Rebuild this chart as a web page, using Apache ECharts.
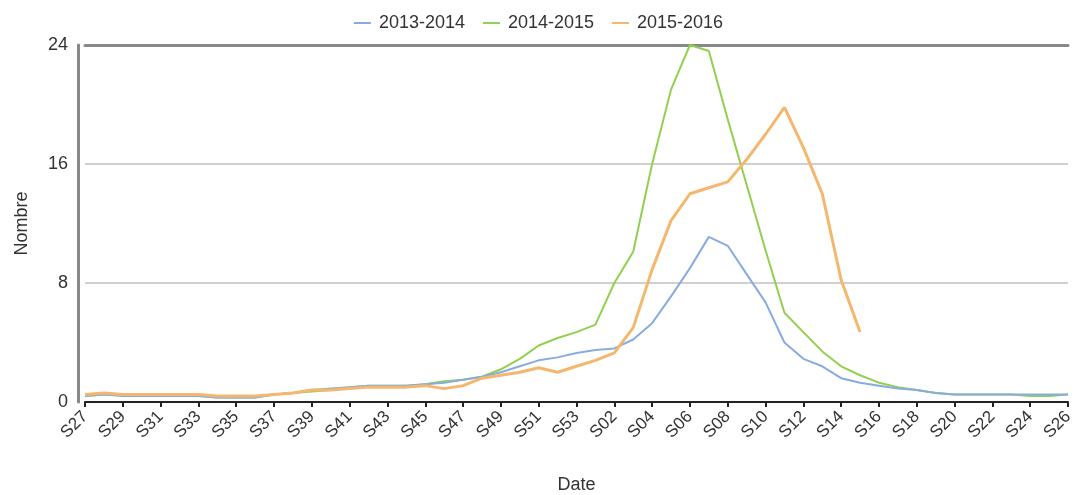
<!DOCTYPE html>
<html>
<head>
<meta charset="utf-8">
<script src="https://cdn.jsdelivr.net/npm/echarts@6/dist/echarts.min.js"></script>
<style>
html,body{margin:0;padding:0;background:#fff;}
#main{width:1077px;height:495px;}
</style>
</head>
<body>
<div id="main"></div>
<script>
var weeks = ['S27','S28','S29','S30','S31','S32','S33','S34','S35','S36','S37','S38','S39','S40','S41','S42','S43','S44','S45','S46','S47','S48','S49','S50','S51','S52','S53',
  'S01','S02','S03','S04','S05','S06','S07','S08','S09','S10','S11','S12','S13','S14','S15','S16','S17','S18','S19','S20','S21','S22','S23','S24','S25','S26'];
var seriesNames = ['2013-2014','2014-2015','2015-2016'];
var s2013 = [0.4,0.5,0.4,0.4,0.4,0.4,0.4,0.3,0.3,0.3, 0.5,0.6,0.8,0.9,1.0,1.1,1.1,1.1,1.2,1.3, 1.5,1.7,2.0,2.4,2.8,3.0,3.3,3.5,3.6,4.2, 5.3,7.1,9.0,11.1,10.5,8.6,6.7,4.0,2.9,2.4, 1.6,1.3,1.1,0.9,0.8,0.6,0.5,0.5,0.5,0.5, 0.5,0.5,0.5];
var s2014 = [0.4,0.5,0.5,0.5,0.4,0.4,0.4,0.3,0.3,0.3, 0.5,0.6,0.7,0.8,1.0,1.1,1.1,1.1,1.2,1.4, 1.5,1.7,2.2,2.9,3.8,4.3,4.7,5.2,8.0,10.1, 16.0,21.0,24.0,23.6,19.0,14.6,10.2,6.0,4.7,3.4, 2.4,1.8,1.3,1.0,0.8,0.6,0.5,0.5,0.5,0.5, 0.4,0.4,0.5];
var s2015 = [0.5,0.6,0.5,0.5,0.5,0.5,0.5,0.4,0.4,0.4, 0.5,0.6,0.8,0.8,0.9,1.0,1.0,1.0,1.1,0.9, 1.1,1.6,1.8,2.0,2.3,2.0,2.4,2.8,3.3,5.0, 8.9,12.2,14.0,14.4,14.8,16.3,18.0,19.8,17.1,14.0, 8.2,4.7];
var yTicks = [0, 8, 16, 24];
var colors = ['#88ace0', '#92d050', '#f5b76e'];

var chart = echarts.init(document.getElementById('main'));
var font = 'Liberation Sans, Arial, sans-serif';
chart.setOption({
  animation: false,
  color: colors,
  textStyle: {fontFamily: font},
  legend: {
    top: 9, left: 'center',
    icon: 'rect', itemWidth: 17, itemHeight: 2, itemGap: 18,
    textStyle: {fontSize: 18, color: '#333', fontFamily: font, padding: [0, 0, 0, 3]},
    data: seriesNames
  },
  grid: {left: 85, right: 9, top: 45, bottom: 93, containLabel: false, outerBoundsMode: 'none'},
  xAxis: [{
    type: 'category', data: weeks, boundaryGap: false,
    name: 'Date', nameLocation: 'middle', nameGap: 74,
    nameTextStyle: {fontSize: 18, color: '#333', fontFamily: font},
    axisLine: {lineStyle: {color: '#222', width: 2}},
    axisTick: {show: true, interval: 1, length: 5, inside: false, lineStyle: {color: '#222', width: 2}},
    axisLabel: {interval: 1, rotate: 45, fontSize: 17, color: '#333', margin: 12, fontFamily: font},
    splitLine: {show: false}
  }, {
    type: 'category', data: weeks, boundaryGap: false, position: 'top',
    axisLine: {lineStyle: {color: '#888', width: 3}},
    axisTick: {show: false}, axisLabel: {show: false}, splitLine: {show: false}
  }],
  yAxis: {
    type: 'value', min: yTicks[0], max: yTicks[yTicks.length - 1], interval: 8,
    offset: 7,
    name: 'Nombre', nameLocation: 'middle', nameGap: 47, nameRotate: 90,
    nameTextStyle: {fontSize: 18, color: '#333', fontFamily: font},
    axisLine: {show: true, lineStyle: {color: '#888', width: 3}},
    axisTick: {show: false},
    axisLabel: {fontSize: 18, color: '#333', margin: 10, fontFamily: font},
    splitLine: {show: true, lineStyle: {color: '#d0d0d0', width: 2}}
  },
  series: [
    {name: seriesNames[0], type: 'line', data: s2013, symbol: 'none', lineStyle: {width: 2}, z: 3},
    {name: seriesNames[1], type: 'line', data: s2014, symbol: 'none', lineStyle: {width: 2}, z: 2},
    {name: seriesNames[2], type: 'line', data: s2015, symbol: 'none', lineStyle: {width: 3}, z: 4}
  ]
});
</script>
</body>
</html>
